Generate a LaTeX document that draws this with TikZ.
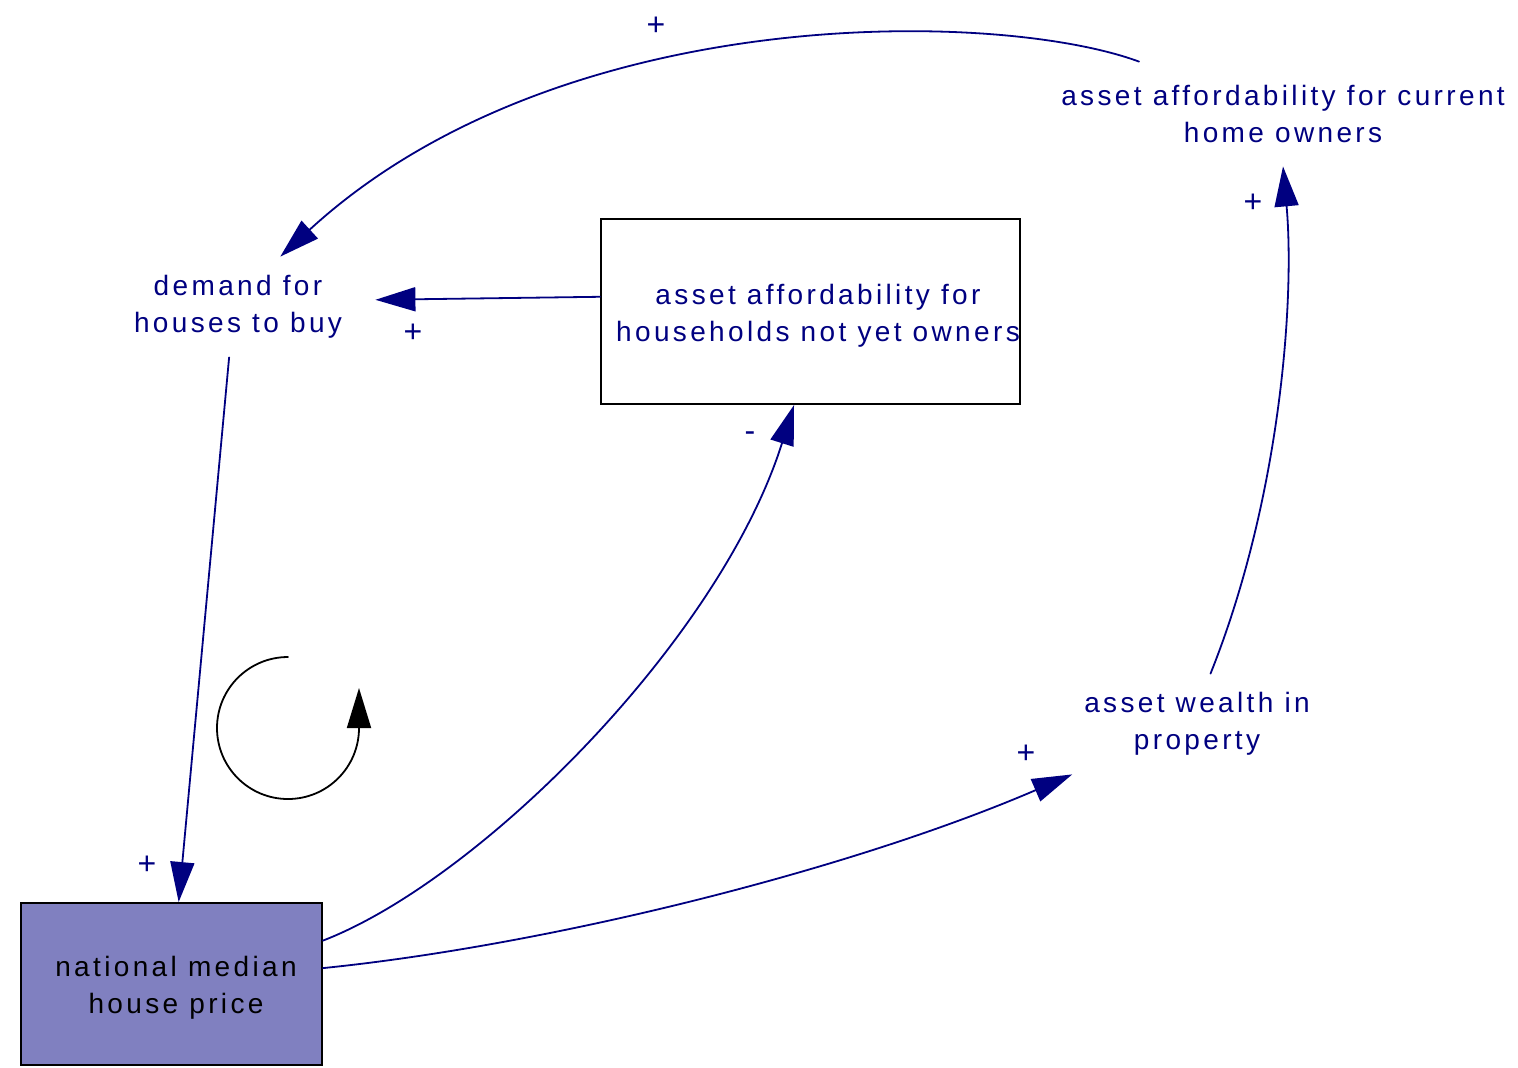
\documentclass[tikz,border=0pt]{standalone}
\usepackage{fontspec}
\newfontfamily\cldfont[LetterSpace=12]{Liberation Sans}
\usepackage{tikz}
\usetikzlibrary{arrows.meta}
\definecolor{cldblue}{RGB}{0,0,128}
\definecolor{pricefill}{RGB}{128,128,192}

\begin{document}
\begin{tikzpicture}[
    x=0.5pt, y=-0.5pt, line cap=round,
    cldvar/.style ={font=\cldfont\fontsize{14}{18.5}\selectfont, text=cldblue, align=center, inner sep=0pt},
    cldbox/.style ={cldvar, draw=black, line width=1pt},
    pricebox/.style={cldbox, fill=pricefill, text=black},
    link/.style   ={draw=cldblue, line width=0.9pt, -{Triangle[length=20pt, width=12pt]}},
    sgn/.style    ={font=\cldfont\fontsize{16}{18.5}\selectfont, text=cldblue, inner sep=0pt},
    loopar/.style ={draw=black, line width=0.9pt, -{Triangle[length=20pt, width=12pt]}}
]
\useasboundingbox (0,0) rectangle (1518,1067);

% variables
\node[cldvar, minimum width=137pt, minimum height=50pt] (demand) at (238,307) {demand for\\houses to buy};
\node[cldvar, minimum width=230pt, minimum height=52pt] (curown) at (1283,114) {asset affordability for current\\home owners};
\node[cldvar, minimum width=125pt, minimum height=50pt] (wealth) at (1197,724) {asset wealth in\\property};
\node[cldbox, minimum width=209.5pt, minimum height=92.5pt] (notown) at (810.5,311.5) {};
\node[cldvar] (notowntxt) at (818,316) {asset affordability for\\households not yet owners};
\node[pricebox, minimum width=150.5pt, minimum height=81pt] (price) at (171.5,984) {};
\node[cldvar, text=black] (pricetxt) at (176,988) {national median\\house price};

% links
\draw[link] (curown.160) .. controls (1000,10) and (560,0) .. (demand.50);
\draw[link] (notown.176) -- (demand.3);
\draw[link] (demand.260) -- (price.85);
\draw[link] (price.16) .. controls (480,880) and (720,640) .. (notown.260);
\draw[link] (price.6) .. controls (550,945) and (850,870) .. (wealth.202);
\draw[link] (wealth.75) .. controls (1280,500) and (1295,300) .. (curown.south);

% polarities
\node[sgn] (s1) at (656,26) {+};
\node[sgn] (s2) at (413,333) {+};
\node[sgn] (s3) at (147,865) {+};
\node[sgn] (s4) at (750,437) {-};
\node[sgn] (s5) at (1026,754) {+};
\node[sgn] (s6) at (1253,203) {+};

% loop symbol
\coordinate (loopc) at (288,728);
\draw[loopar] (loopc) ++(0,-71) arc[start angle=90, end angle=360, radius=35.5pt] -- ++(0,-40);
\end{tikzpicture}
\end{document}
